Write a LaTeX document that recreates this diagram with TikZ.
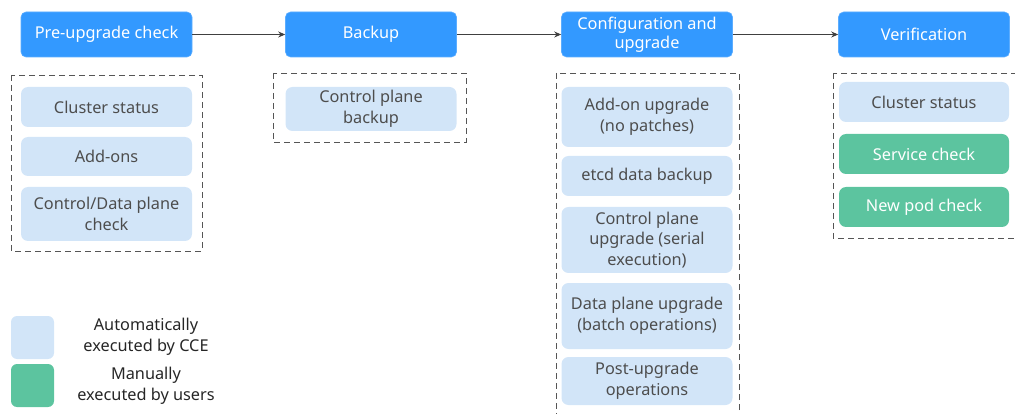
\documentclass[tikz,border=0pt]{standalone}
\usepackage{fontspec}
\setmainfont{Noto Sans}
\usetikzlibrary{arrows.meta}
\definecolor{hdr}{HTML}{3399FF}
\definecolor{lb}{HTML}{D2E5F8}
\definecolor{gr}{HTML}{5CC49F}
\definecolor{txt}{HTML}{4D4D4D}
\definecolor{dsh}{HTML}{555555}
\tikzset{
  fnt/.style={font=\fontsize{16.3}{20.5}\selectfont},
  hbox/.style={fill=hdr, draw=hdr!80!white, line width=0.6pt, rounded corners=5pt, text=white, align=center, inner sep=0pt, minimum width=171pt, minimum height=45pt, font=\fontsize{16.3}{20}\selectfont},
  abox/.style={fill=lb, draw=none, rounded corners=7pt, text=txt, align=center, inner sep=0pt, minimum width=171pt, fnt},
  mbox/.style={fill=gr, draw=none, rounded corners=7pt, text=white, align=center, inner sep=0pt, minimum width=171pt, fnt},
  grp/.style={draw=dsh, dash pattern=on 6pt off 4pt, line width=0.8pt},
  flow/.style={draw=black!75, line width=0.8pt, -{Stealth[length=7pt,width=6pt]}},
  leg/.style={text=black!85, align=center, fnt}
}
\begin{document}
\begin{tikzpicture}[x=1pt,y=-1pt]
\useasboundingbox (0,0) rectangle (1015,414);
\begin{scope}
\clip (0,0) rectangle (1015,414);
% dashed groups
\draw[grp] (11,75) rectangle (202,251);
\draw[grp] (273,73) rectangle (466,142);
\draw[grp] (556,73) rectangle (739,440);
\draw[grp] (833,73) rectangle (1040,238);
\end{scope}
% headers
\node[hbox] (h1) at (106.5,34.5) {Pre-upgrade check};
\node[hbox] (h2) at (371,34.5) {Backup};
\node[hbox] (h3) at (647,34.5) {Configuration and\\[-1pt]upgrade};
\node[hbox] (h4) at (924,34.5) {Verification};
\draw[flow] (h1) -- (h2);
\draw[flow] (h2) -- (h3);
\draw[flow] (h3) -- (h4);
% group 1
\node[abox, minimum height=40pt] (a1) at (106.5,107) {Cluster status};
\node[abox, minimum height=39pt] (a2) at (106.5,156.5) {Add-ons};
\node[abox, minimum height=54pt] (a3) at (106.5,214) {Control/Data plane\\check};
% group 2
\node[abox, minimum height=44pt] (b1) at (371,109) {Control plane\\backup};
% group 3
\node[abox, minimum height=60pt] (c1) at (647,117) {Add-on upgrade\\(no patches)};
\node[abox, minimum height=40pt] (c2) at (647,176) {etcd data backup};
\node[abox, minimum height=66pt] (c3) at (647,240) {Control plane\\upgrade (serial\\execution)};
\node[abox, minimum height=66pt] (c4) at (647,316) {Data plane upgrade\\(batch operations)};
\node[abox, minimum height=48pt] (c5) at (647,381) {Post-upgrade\\operations};
% group 4
\node[abox, minimum width=170pt, minimum height=40pt] (d1) at (924,102) {Cluster status};
\node[mbox, minimum width=170pt, minimum height=40pt] (d2) at (924,154) {Service check};
\node[mbox, minimum width=170pt, minimum height=40pt] (d3) at (924,207) {New pod check};
% legend
\node[fill=lb, rounded corners=6pt, minimum width=43pt, minimum height=43pt, inner sep=0pt] (l1) at (32.5,337.5) {};
\node[fill=gr, rounded corners=6pt, minimum width=43pt, minimum height=43pt, inner sep=0pt] (l2) at (32.5,385.5) {};
\node[leg] (t1) at (146,337) {Automatically\\executed by CCE};
\node[leg] (t2) at (146,386) {Manually\\executed by users};
\end{tikzpicture}
\end{document}
